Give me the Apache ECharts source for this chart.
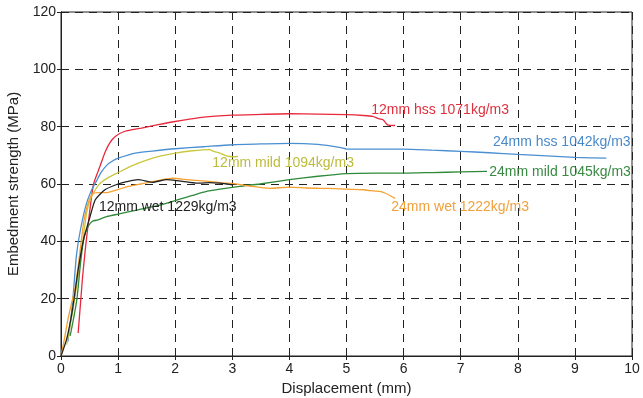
<!DOCTYPE html>
<html>
<head>
<meta charset="utf-8">
<script src="https://cdn.jsdelivr.net/npm/echarts@6/dist/echarts.min.js"></script>
<style>
  html, body { margin: 0; padding: 0; background: #fff; }
  #chart { width: 643px; height: 398px; }
</style>
</head>
<body>
<div id="chart"></div>
<script>
// Embedment strength vs displacement, [displacement mm, strength MPa]
const hss12 = [[0.3,8],[0.34,18],[0.38,28],[0.43,38],[0.5,50],[0.57,60],[0.68,66],[0.77,71],[0.86,74.5],[0.95,76.6],[1.12,78.4],[1.41,79.5],[1.7,80.7],[2.0,81.8],[2.5,83.3],[3.0,84],[3.5,84.3],[4.0,84.5],[4.5,84.4],[5.0,84.2],[5.3,83.9],[5.46,83.6],[5.55,82.9],[5.64,82.4],[5.72,80.6],[5.85,80.4]];
const hss24 = [[0.12,5],[0.2,18],[0.27,35],[0.35,45],[0.45,53.4],[0.55,58.5],[0.62,61],[0.7,64],[0.8,66.5],[0.9,68],[1.0,69],[1.3,70.8],[1.6,71.5],[2.0,72.3],[2.5,73],[3.0,73.7],[3.5,74],[4.0,74.2],[4.5,73.8],[4.9,72.7],[5.0,72.2],[5.5,72.2],[6.0,72.2],[6.5,71.8],[7.0,71.4],[7.5,70.9],[8.0,70.3],[8.5,69.8],[9.0,69.3],[9.55,69.0]];
const mild12 = [[0.1,4],[0.2,15],[0.3,28],[0.38,40],[0.45,50],[0.52,55],[0.6,58],[0.7,60.5],[0.85,62.5],[1.0,64],[1.26,66.5],[1.5,68.3],[1.75,69.8],[2.0,70.8],[2.3,71.6],[2.6,72],[2.67,71.4],[2.78,70.8],[2.9,69.8],[3.0,69.5],[3.1,69.6]];
const mild24 = [[0.16,7],[0.22,13],[0.28,20],[0.34,32],[0.4,41],[0.47,45],[0.55,47],[0.65,47.5],[0.8,48.6],[1.0,49.5],[1.35,51],[1.8,53],[2.08,54.7],[2.3,56],[2.55,57.4],[2.85,58.4],[3.13,59.2],[3.48,60],[4.0,61.5],[4.5,62.7],[5.0,63.6],[5.5,63.8],[6.05,63.8],[6.5,64],[7.0,64.2],[7.46,64.4]];
const wet24 = [[0,0],[0.06,6],[0.12,12.6],[0.18,18],[0.25,24],[0.33,36],[0.4,47],[0.47,53],[0.55,56.5],[0.65,57],[0.8,57],[0.95,57.8],[1.15,59],[1.4,60],[1.7,61.2],[1.96,62],[2.2,61.5],[2.55,61],[2.8,60.4],[3.0,60.2],[3.3,59.3],[3.66,58.5],[4.0,58.9],[4.3,58.6],[4.54,58.5],[4.8,58.4],[5.0,58.2],[5.3,58],[5.41,57.7],[5.59,57.4],[5.7,56.6],[5.76,56],[5.85,55]];
const wet12 = [[0,0],[0.1,6],[0.2,16],[0.3,30],[0.4,41],[0.51,48.7],[0.6,54.5],[0.77,58],[1.0,60],[1.15,60.8],[1.35,61.5],[1.5,61],[1.6,60.6],[1.85,61.5],[2.0,61.3],[2.1,61],[2.25,60.6],[2.43,60.3],[2.6,60.5],[2.78,60.3],[2.9,60],[3.0,59.7]];

const seriesNames = ['12mm hss 1071kg/m3','24mm hss 1042kg/m3','12mm mild 1094kg/m3','24mm mild 1045kg/m3','24mm wet 1222kg/m3','12mm wet 1229kg/m3'];
const xTicks = [0,1,2,3,4,5,6,7,8,9,10];
const yTicks = [0,20,40,60,80,100,120];

// styling and label anchor points (data coordinates)
const curveStyles = [
  { data: hss12,  color: '#e8283c', text: '#e0303e', at: [6.64, 85.9] },
  { data: hss24,  color: '#4a8fd0', text: '#4a8ac8', at: [8.77, 74.7] },
  { data: mild12, color: '#c8c83e', text: '#bcbc3c', at: [3.89, 67.4] },
  { data: mild24, color: '#2e8a3a', text: '#3a8a42', at: [8.74, 64.3] },
  { data: wet24,  color: '#f5a030', text: '#f0a03c', at: [6.99, 52.0] },
  { data: wet12,  color: '#222222', text: '#222222', at: [1.87, 52.0] }
];

const font = 'Liberation Sans, Arial, sans-serif';
const dash = { type: [8, 6], color: '#222', width: 1 };

const series = curveStyles.map((c, i) => ({
  name: seriesNames[i],
  type: 'line',
  data: c.data,
  showSymbol: false,
  smooth: 0.2,
  lineStyle: { color: c.color, width: 1.3 },
  z: 3,
  markPoint: {
    symbolSize: 0,
    silent: true,
    data: [{ coord: c.at }],
    label: {
      show: true, position: 'inside', formatter: seriesNames[i],
      color: c.text, fontFamily: font, fontSize: 14
    }
  }
}));

const chart = echarts.init(document.getElementById('chart'), null, { renderer: 'canvas' });
chart.setOption({
  animation: false,
  backgroundColor: '#fff',
  grid: {
    left: 61, right: 11, top: 12, bottom: 42,
    containLabel: false, outerBoundsMode: 'none',
    show: true, borderColor: '#222', borderWidth: 1, backgroundColor: 'transparent'
  },
  xAxis: [{
    type: 'value', min: xTicks[0], max: xTicks[xTicks.length - 1], interval: 1,
    name: 'Displacement (mm)', nameLocation: 'middle', nameGap: 20,
    nameTextStyle: { fontFamily: font, fontSize: 15, color: '#222' },
    axisLine: { show: true, onZero: false, lineStyle: { color: '#222' } },
    axisTick: { show: true, inside: true, length: 4, lineStyle: { color: '#222' } },
    axisLabel: { fontFamily: font, fontSize: 14, color: '#222', margin: 6 },
    splitLine: { show: true, lineStyle: dash }
  }, {
    type: 'value', position: 'top', min: 0, max: 10, interval: 1,
    axisLine: { show: true, lineStyle: { color: '#222' } },
    axisTick: { show: true, inside: true, length: 4, lineStyle: { color: '#222' } },
    axisLabel: { show: false }, splitLine: { show: false }
  }],
  yAxis: [{
    type: 'value', min: yTicks[0], max: yTicks[yTicks.length - 1], interval: 20,
    name: 'Embedment strength (MPa)', nameLocation: 'middle', nameGap: 32,
    nameTextStyle: { fontFamily: font, fontSize: 15, color: '#222' },
    axisLine: { show: true, onZero: false, lineStyle: { color: '#222' } },
    axisTick: { show: true, inside: true, length: 4, lineStyle: { color: '#222' } },
    axisLabel: { fontFamily: font, fontSize: 14, color: '#222', margin: 5 },
    splitLine: { show: true, lineStyle: dash }
  }, {
    type: 'value', position: 'right', min: 0, max: 120, interval: 20,
    axisLine: { show: true, lineStyle: { color: '#222' } },
    axisTick: { show: true, inside: true, length: 4, lineStyle: { color: '#222' } },
    axisLabel: { show: false }, splitLine: { show: false }
  }],
  series: series
});
</script>
</body>
</html>
